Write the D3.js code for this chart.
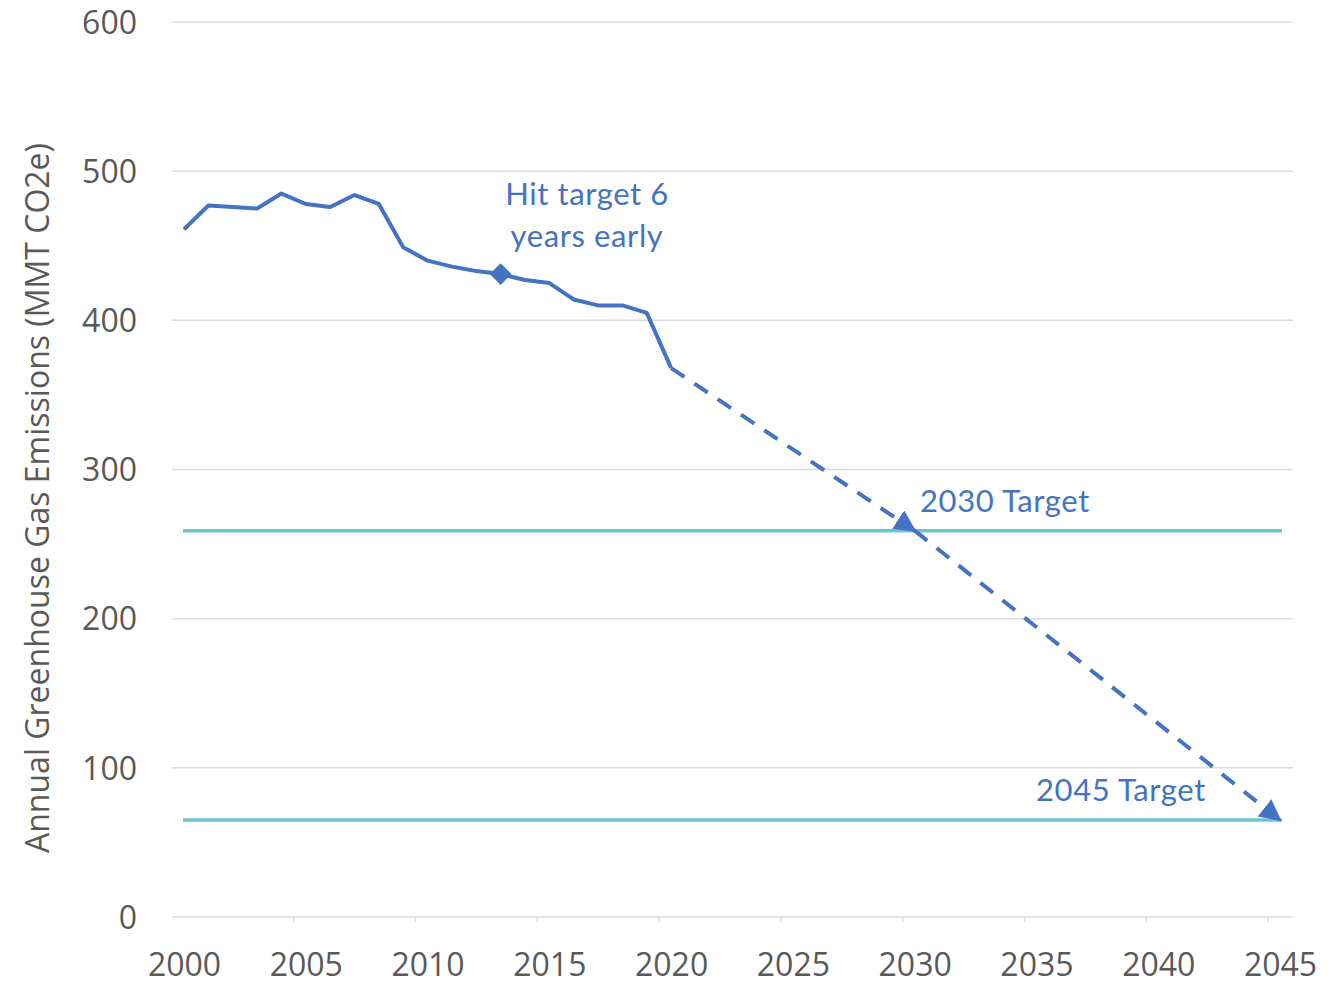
<!DOCTYPE html>
<meta charset="utf-8">
<style>
body { margin: 0; background: #fff; }
text { font-family: 'Open Sans', sans-serif; }
.axis text { font-size: 32px; fill: #595959; }
.note { font-family: 'Lato', sans-serif; font-size: 31px; letter-spacing: 0.6px; fill: #4472c4; }
</style>
<svg id="chart" width="1344" height="987"></svg>
<script src="https://d3js.org/d3.v7.min.js"></script>
<script>

var years = [2000, 2001, 2002, 2003, 2004, 2005, 2006, 2007, 2008, 2009, 2010,
             2011, 2012, 2013, 2014, 2015, 2016, 2017, 2018, 2019, 2020];
var emissions = [461, 477, 476, 475, 485, 478, 476, 484, 478, 449, 440,
                 436, 433, 431, 427, 425, 414, 410, 410, 405, 368];
var pathYears = [2020, 2030, 2045];
var pathValues = [368, 259, 65];
var targetValues = [259, 65];
var targetLabels = ["2030 Target", "2045 Target"];
var xTicks = [2000, 2005, 2010, 2015, 2020, 2025, 2030, 2035, 2040, 2045];
var yTicks = [0, 100, 200, 300, 400, 500, 600];
var earlyYear = 2013;

var svg = d3.select("#chart");
var plotLeft = 172, plotRight = 1293, plotTop = 22, plotBottom = 917;

var x = d3.scaleLinear().domain([2000, 2045]).range([184, 1280]);
var y = d3.scaleLinear().domain([0, 600]).range([plotBottom, plotTop]);

// grid
svg.append("g")
    .selectAll("line")
    .data(yTicks)
    .join("line")
    .attr("x1", plotLeft).attr("x2", plotRight)
    .attr("y1", d => y(d)).attr("y2", d => y(d))
    .attr("stroke", "#dcdcdc").attr("stroke-width", 1.5);

// y axis labels
var yAxis = svg.append("g")
    .attr("class", "axis")
    .attr("transform", "translate(" + 137 + ",0)")
    .call(d3.axisLeft(y).tickValues(yTicks).tickSize(0).tickPadding(0));
yAxis.select(".domain").remove();
yAxis.selectAll("text").attr("dy", "0.35em");

// x axis labels
var xAxis = svg.append("g")
    .attr("class", "axis")
    .attr("transform", "translate(0," + (plotBottom + 30) + ")")
    .call(d3.axisBottom(x).tickValues(xTicks).tickFormat(d3.format("d")).tickSize(0).tickPadding(0));
xAxis.select(".domain").remove();
xAxis.selectAll("text").attr("dy", "0.9em");

// small ticks on bottom axis
svg.append("g")
    .selectAll("line")
    .data(xTicks.slice(1))
    .join("line")
    .attr("x1", d => x(d) - 12).attr("x2", d => x(d) - 12)
    .attr("y1", plotBottom).attr("y2", plotBottom + 5)
    .attr("stroke", "#e0e0e0").attr("stroke-width", 1.5);

// y title
svg.append("text")
    .attr("transform", "translate(49," + 498 + ") rotate(-90)")
    .attr("text-anchor", "middle")
    .style("font-size", "32px")
    .attr("fill", "#595959")
    .text("Annual Greenhouse Gas Emissions (MMT CO2e)");

// target lines
svg.append("g")
    .selectAll("line")
    .data(targetValues)
    .join("line")
    .attr("x1", 183).attr("x2", 1282)
    .attr("y1", d => y(d)).attr("y2", d => y(d))
    .attr("stroke", "#6cc3d5").attr("stroke-width", 3.5);

// history line
var line = d3.line().x(d => x(d[0])).y(d => y(d[1]));
svg.append("path")
    .datum(years.map((d, i) => [d, emissions[i]]))
    .attr("d", line)
    .attr("fill", "none")
    .attr("stroke", "#4472c4")
    .attr("stroke-width", 4)
    .attr("stroke-linejoin", "round");

// arrowheads
svg.append("defs").append("marker")
    .attr("id", "arrow")
    .attr("viewBox", "0 0 10 10")
    .attr("refX", 9).attr("refY", 5)
    .attr("markerWidth", 5.5).attr("markerHeight", 5.5)
    .attr("markerUnits", "strokeWidth")
    .attr("orient", "auto")
    .append("path")
    .attr("d", "M0,0L10,5L0,10Z")
    .attr("fill", "#4472c4");

// projected path, two arrowed segments
var segs = d3.pairs(pathYears.map((d, i) => [d, pathValues[i]]));
svg.append("g")
    .selectAll("path")
    .data(segs)
    .join("path")
    .attr("d", line)
    .attr("fill", "none")
    .attr("stroke", "#4472c4")
    .attr("stroke-width", 4)
    .attr("stroke-dasharray", "16,12")
    .attr("marker-end", "url(#arrow)");

// diamond marker
var ei = years.indexOf(earlyYear);
svg.append("path")
    .attr("d", d3.symbol(d3.symbolDiamond2, 300)())
    .attr("transform", "translate(" + x(earlyYear) + "," + y(emissions[ei]) + ")")
    .attr("fill", "#4472c4");

// annotations
svg.append("text")
    .attr("class", "note")
    .attr("text-anchor", "middle")
    .selectAll("tspan")
    .data(["Hit target 6", "years early"])
    .join("tspan")
    .attr("x", 587)
    .attr("y", (d, i) => 205 + i * 42)
    .text(d => d);

svg.append("g")
    .selectAll("text")
    .data(targetLabels)
    .join("text")
    .attr("class", "note")
    .attr("x", (d, i) => i === 0 ? 920 : 1036)
    .attr("y", (d, i) => y(targetValues[i]) - 19)
    .text(d => d);

</script>
